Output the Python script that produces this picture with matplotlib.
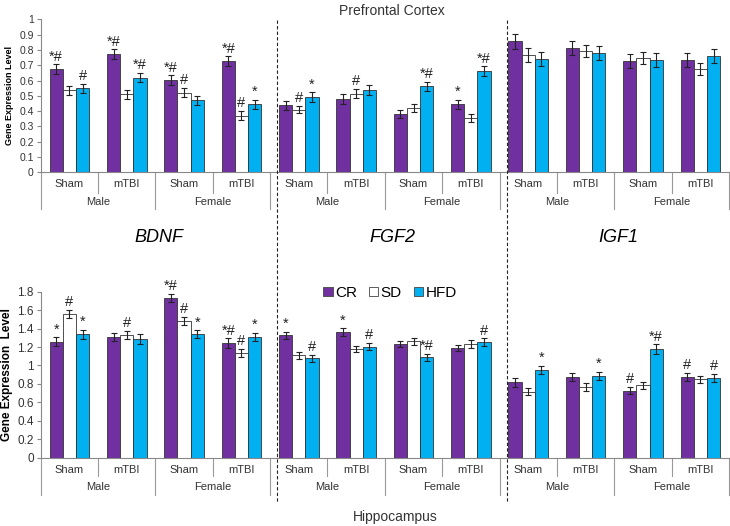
import numpy as np
import matplotlib
matplotlib.use('Agg')
from matplotlib import pyplot as plt
from matplotlib.lines import Line2D
from matplotlib.patches import Patch

plt.rcParams['font.family'] = ['Liberation Sans', 'DejaVu Sans']

genes = ['BDNF', 'FGF2', 'IGF1']
sexes = ['Male', 'Female']
injury = ['Sham', 'mTBI']
diets = ['CR', 'SD', 'HFD']
colors = ['#7030A0', '#FFFFFF', '#00B0F0']

# prefrontal cortex, 12 groups: gene x sex x injury
pfc_cr = [0.675, 0.773, 0.603, 0.727, 0.438, 0.479, 0.383, 0.444, 0.856, 0.81, 0.727, 0.736]
pfc_sd = [0.535, 0.51, 0.52, 0.37, 0.41, 0.514, 0.42, 0.355, 0.769, 0.793, 0.745, 0.677]
pfc_hfd = [0.55, 0.618, 0.47, 0.444, 0.492, 0.538, 0.562, 0.662, 0.743, 0.782, 0.732, 0.762]
pfc_cr_err = [0.03, 0.03, 0.03, 0.03, 0.03, 0.03, 0.025, 0.03, 0.047, 0.045, 0.045, 0.045]
pfc_sd_err = [0.03, 0.03, 0.03, 0.03, 0.025, 0.03, 0.025, 0.025, 0.045, 0.04, 0.04, 0.04]
pfc_hfd_err = [0.03, 0.03, 0.03, 0.03, 0.03, 0.03, 0.03, 0.03, 0.045, 0.045, 0.045, 0.045]
pfc_cr_sig = ['*#', '*#', '*#', '*#', '', '', '', '*', '', '', '', '']
pfc_sd_sig = ['', '', '#', '#', '#', '#', '', '', '', '', '', '']
pfc_hfd_sig = ['#', '*#', '', '*', '*', '', '*#', '*#', '', '', '', '']

# hippocampus
hip_cr = [1.258, 1.312, 1.732, 1.244, 1.327, 1.363, 1.23, 1.19, 0.818, 0.875, 0.727, 0.875]
hip_sd = [1.555, 1.327, 1.486, 1.132, 1.11, 1.179, 1.262, 1.233, 0.716, 0.77, 0.785, 0.85]
hip_hfd = [1.338, 1.287, 1.338, 1.312, 1.078, 1.204, 1.089, 1.255, 0.951, 0.889, 1.179, 0.861]
hip_cr_err = [0.05, 0.045, 0.045, 0.05, 0.04, 0.04, 0.035, 0.035, 0.05, 0.045, 0.04, 0.045]
hip_sd_err = [0.045, 0.045, 0.045, 0.045, 0.035, 0.035, 0.035, 0.04, 0.04, 0.045, 0.04, 0.04]
hip_hfd_err = [0.05, 0.05, 0.045, 0.045, 0.04, 0.04, 0.04, 0.04, 0.045, 0.045, 0.05, 0.045]
hip_cr_sig = ['*', '', '*#', '*#', '*', '*', '', '', '', '', '#', '#']
hip_sd_sig = ['#', '#', '#', '#', '', '', '', '', '', '', '', '']
hip_hfd_sig = ['*', '', '*', '*', '#', '#', '*#', '#', '*', '*', '*#', '#']

W, H = 730, 526
fig = plt.figure(figsize=(W / 100, H / 100), dpi=100)

def px_box(left, top, right, bottom):
    return [left / W, 1 - bottom / H, (right - left) / W, (bottom - top) / H]

ax1 = fig.add_axes(px_box(40.7, 19.3, 729, 172.3))
ax2 = fig.add_axes(px_box(40.7, 291.7, 729, 457.7))

x = np.arange(12)
bw = 0.23


def draw(ax, vals, errs, sigs, ymax, step, tick_fs, short_px, long_px, lab1_px, lab2_px):
    ax_h = ax.get_position().height * H
    for k in range(3):
        pos = x + (k - 1) * bw
        ax.bar(pos, vals[k], bw, color=colors[k], edgecolor='#333333', linewidth=0.6,
               yerr=errs[k], capsize=2.5,
               error_kw=dict(elinewidth=0.8, capthick=0.8, ecolor='#222222'))
        for i in range(12):
            if sigs[k][i]:
                ax.annotate(sigs[k][i], (pos[i], vals[k][i] + errs[k][i]),
                            xytext=(0, 0.5), textcoords='offset points',
                            ha='center', va='bottom', fontsize=10.5, color='#222222')
    ax.set_xlim(-0.5, 11.5)
    ax.set_ylim(0, ymax)
    ax.set_yticks(np.round(np.arange(0, ymax + 1e-9, step), 2))
    ax.set_yticklabels(['%g' % t for t in np.arange(0, ymax + 1e-9, step)], fontsize=tick_fs,
                       color='#333333')
    ax.tick_params(axis='y', length=3, color='#888888', pad=2)
    ax.set_xticks([])
    for s in ['top', 'right']:
        ax.spines[s].set_visible(False)
    ax.spines['left'].set_color('#888888')
    ax.spines['bottom'].set_color('#888888')
    tr = ax.get_xaxis_transform()
    for b in np.arange(-0.5, 12, 1):
        depth = long_px if int(b + 0.5) % 2 == 0 else short_px
        ax.plot([b, b], [0, -depth / ax_h], transform=tr, color='#999999', lw=0.8,
                clip_on=False)
    for i in range(12):
        ax.text(i, -lab1_px / ax_h, injury[i % 2], transform=tr, ha='center', va='center',
                fontsize=8, color='#333333')
    for j in range(6):
        ax.text(2 * j + 0.5, -lab2_px / ax_h, sexes[j % 2], transform=tr, ha='center',
                va='center', fontsize=8, color='#333333')


draw(ax1, [pfc_cr, pfc_sd, pfc_hfd], [pfc_cr_err, pfc_sd_err, pfc_hfd_err],
     [pfc_cr_sig, pfc_sd_sig, pfc_hfd_sig], 1.0, 0.1, 7.5, 21, 37, 12, 30)
draw(ax2, [hip_cr, hip_sd, hip_hfd], [hip_cr_err, hip_sd_err, hip_hfd_err],
     [hip_cr_sig, hip_sd_sig, hip_hfd_sig], 1.8, 0.2, 8.5, 18, 37, 12, 29)

ax1.set_ylabel('Gene Expression Level', fontsize=6.5, fontweight='bold', labelpad=4)
ax2.set_ylabel('Gene Expression  Level', fontsize=8.5, fontweight='bold', labelpad=3)

# dashed separators between genes
for xp in [277, 507]:
    fig.add_artist(Line2D([xp / W, xp / W], [1 - 20 / H, 1 - 503 / H], color='#222222',
                          lw=0.8, linestyle=(0, (3, 2))))

for j, g in enumerate(genes):
    xc = [159, 392, 618][j]
    fig.text(xc / W, 1 - 238 / H, g, ha='center', va='center', fontsize=13, style='italic')

fig.text(392 / W, 1 - 11 / H, 'Prefrontal Cortex', ha='center', va='center', fontsize=10,
         color='#333333')
fig.text(395 / W, 1 - 517 / H, 'Hippocampus', ha='center', va='center', fontsize=10,
         color='#333333')

handles = [Patch(facecolor=c, edgecolor='#444444', linewidth=0.6) for c in colors]
fig.legend(handles, diets, loc='center', bbox_to_anchor=(390 / W, 1 - 293 / H), ncol=3,
           frameon=False, fontsize=11, handlelength=0.6, handleheight=0.6,
           handletextpad=0.15, columnspacing=0.8)

fig.savefig('out.png', dpi=100)
